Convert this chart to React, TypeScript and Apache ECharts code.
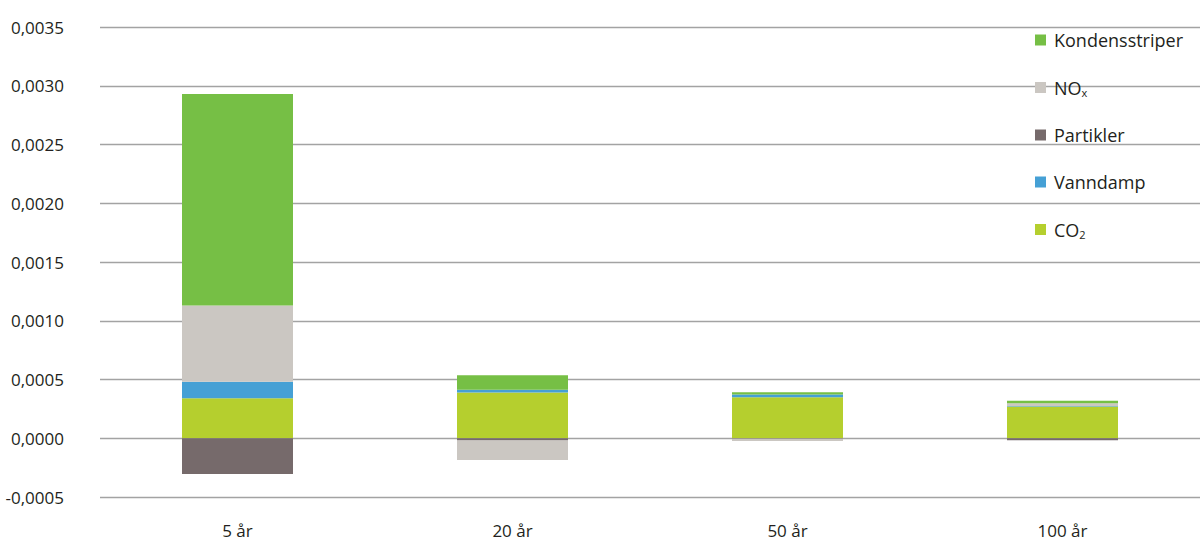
import React, { useEffect, useRef } from "react";
import * as echarts from "echarts";

const categories = ["5 år", "20 år", "50 år", "100 år"];
const co2 = [0.00034, 0.00039, 0.00035, 0.00027];
const vanndamp = [0.00014, 0.000022, 0.000022, 0.000005];
const partikler = [-0.000305, -0.00002, -0.000004, -0.000018];
const nox = [0.00065, -0.000165, -0.00002, 0.000022];
const kondensstriper = [0.0018, 0.000125, 0.00002, 0.000023];
const yTicks = { min: -0.0005, max: 0.0035, interval: 0.0005 };

const colors = {
  co2: "#b5cf2e",
  vanndamp: "#45a0d5",
  partikler: "#766a6b",
  nox: "#cbc7c2",
  kondens: "#76bf45",
};

const FONT = "'Open Sans', 'Noto Sans', sans-serif";

export default function App() {
  const ref = useRef<HTMLDivElement>(null);
  useEffect(() => {
    if (!ref.current) return;
    const chart = echarts.init(ref.current, undefined, { renderer: "svg" });
    const mk = (name: string, data: number[], color: string) => ({
      name,
      type: "bar",
      stack: "total",
      data,
      barWidth: 111,
      itemStyle: { color },
      emphasis: { disabled: true },
    });
    chart.setOption({
      animation: false,
      grid: { left: 100, right: 0, top: 27, bottom: 62, containLabel: false },
      legend: {
        orient: "vertical",
        left: 1030,
        top: 25,
        itemWidth: 11,
        itemHeight: 11,
        itemGap: 27,
        icon: "rect",
        data: ["Kondensstriper", "NOx", "Partikler", "Vanndamp", "CO2"],
        formatter: (n: string) => {
          if (n === "NOx") return "{a|NO}{s|x}";
          if (n === "CO2") return "{a|CO}{s|2}";
          return "{a|" + n + "}";
        },
        textStyle: {
          fontFamily: FONT,
          fontSize: 18,
          color: "#231f20",
          lineHeight: 20,
          padding: [0, 0, 0, 3],
          rich: {
            a: { fontFamily: FONT, fontSize: 18, lineHeight: 20, color: "#231f20" },
            s: {
              fontFamily: FONT,
              fontSize: 11,
              lineHeight: 20,
              color: "#231f20",
              padding: [10, 0, 0, 0],
            },
          },
        },
      },
      xAxis: {
        type: "category",
        data: categories,
        axisLine: { show: false },
        axisTick: { show: false },
        axisLabel: {
          fontFamily: FONT,
          fontSize: 17,
          color: "#231f20",
          margin: 25,
        },
      },
      yAxis: {
        type: "value",
        min: yTicks.min,
        max: yTicks.max,
        interval: yTicks.interval,
        axisLine: { show: false },
        axisTick: { show: false },
        splitLine: { lineStyle: { color: "#a3a3a3", width: 1.3 } },
        axisLabel: {
          fontFamily: FONT,
          fontSize: 17,
          color: "#231f20",
          margin: 36,
          formatter: (v: number) => v.toFixed(4).replace(".", ","),
        },
      },
      series: [
        mk("CO2", co2, colors.co2),
        mk("Vanndamp", vanndamp, colors.vanndamp),
        mk("Partikler", partikler, colors.partikler),
        mk("NOx", nox, colors.nox),
        mk("Kondensstriper", kondensstriper, colors.kondens),
      ],
    });
    return () => chart.dispose();
  }, []);
  return (
    <div
      ref={ref}
      style={{ position: "absolute", left: 0, top: 0, width: 1200, height: 559, background: "#fff" }}
    />
  );
}
